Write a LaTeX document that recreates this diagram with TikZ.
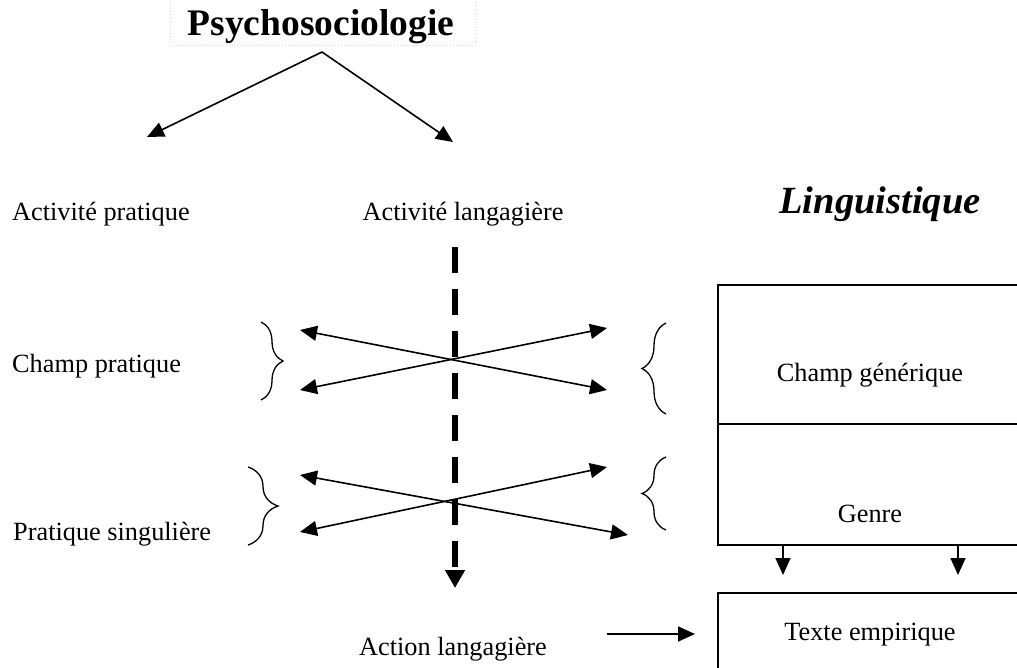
\documentclass[tikz,border=0pt]{standalone}
\usepackage{fontspec}
\setmainfont{Liberation Serif}
\usetikzlibrary{arrows.meta,positioning,calc,decorations.pathreplacing}

\begin{document}
\begin{tikzpicture}[
    x=1pt, y=-1pt,
    >={Triangle[length=17pt,width=15pt]},
    every node/.style={font=\fontsize{26.3}{30}\selectfont, inner sep=0pt},
    txt/.style={anchor=base},
    txtw/.style={anchor=base west},
    boxnode/.style={draw, line width=1.6pt, minimum width=320pt, anchor=north west},
    link/.style={->, line width=1.6pt},
    bracket/.style={decorate, decoration={brace, amplitude=#1}, line width=1.3pt},
    dashline/.style={-{Triangle[length=18pt,width=19pt]}, line width=6pt, dash pattern=on 26pt off 16pt}
]
    \useasboundingbox (0,0) rectangle (1017,667);
    \clip (0,0) rectangle (1017,667);

    % titles
    \node (titlebox) [draw=black!15, dotted, line width=0.8pt, minimum width=305pt, minimum height=55pt] at (322.5,17.5) {};
    \node (title) [txt, font=\fontsize{37.5}{40}\selectfont\bfseries] at (321,35) {Psychosociologie};
    \node (ling) [txt, font=\fontsize{38.5}{40}\selectfont\bfseries\itshape] at (880,213) {Linguistique};

    \node (actp) [txtw] at (12,220) {Activité pratique};
    \node (actl) [txt] at (463,220) {Activité langagière};
    \node (champp) [txtw] at (12,372) {Champ pratique};
    \node (pratsing) [txtw] at (13,540) {Pratique singulière};
    \node (action) [txt] at (453,655) {Action langagière};

    % right column
    \node (champbox) [boxnode, minimum height=139pt] at (717,284) {};
    \node (genrebox) [boxnode, minimum height=121pt] at (717,423) {};
    \node (textebox) [boxnode, minimum height=110pt] at (717,592) {};
    \node (champg) [txt] at (870,381) {Champ générique};
    \node (genre) [txt] at (870,522) {Genre};
    \node (texte) [txt] at (870,640) {Texte empirique};

    \coordinate (apex) at (322,52);
    \coordinate (toleft) at (147,137);
    \coordinate (toright) at (453,142);
    \draw[link] (apex) -- (toleft);
    \draw[link] (apex) -- (toright);

    \coordinate (dtop) at (455,247);
    \coordinate (dbot) at (455,588);
    \draw[dashline] (dtop) -- (dbot);

    \coordinate (xa1) at (300,330);
    \coordinate (xa2) at (607,390);
    \coordinate (xa3) at (300,390);
    \coordinate (xa4) at (607,328);
    \draw[link, <->] (xa1) -- (xa2);
    \draw[link, <->] (xa3) -- (xa4);

    \coordinate (xb1) at (300,475);
    \coordinate (xb2) at (628,535);
    \coordinate (xb3) at (300,532);
    \coordinate (xb4) at (607,467);
    \draw[link, <->] (xb1) -- (xb2);
    \draw[link, <->] (xb3) -- (xb4);

    \draw[bracket=22pt] (261,322) -- (261,400);
    \draw[bracket=30pt] (248,467) -- (248,545);
    \draw[bracket=24pt] (666,414) -- (666,323);
    \draw[bracket=24pt] (666,530) -- (666,457);

    \coordinate (g1) at (783,575);
    \coordinate (g2) at (958,575);
    \draw[link] (genrebox.south -| g1) -- (g1);
    \draw[link] (genrebox.south -| g2) -- (g2);

    \coordinate (act) at (607,634);
    \coordinate (actend) at (695,634);
    \draw[link] (act) -- (actend);

\end{tikzpicture}
\end{document}
